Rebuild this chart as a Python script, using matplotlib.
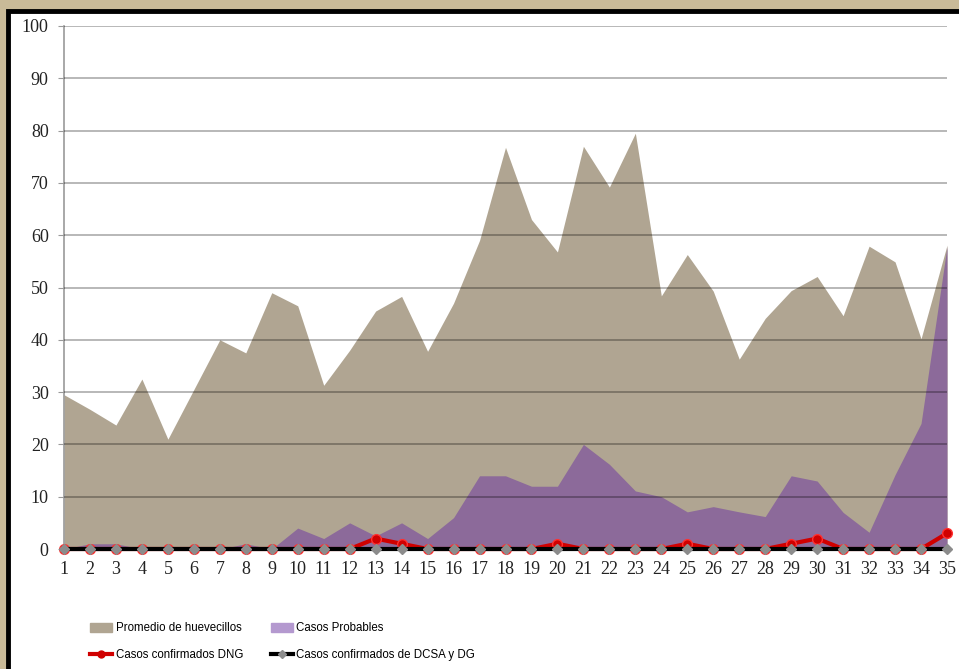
import matplotlib
matplotlib.use("Agg")
import matplotlib.pyplot as plt
import matplotlib.patches as mpatches
from matplotlib.lines import Line2D
import numpy as np

weeks = list(range(1, 36))
promedio = [29.5, 26.7, 23.7, 32.5, 21.0, 30.5, 40.0, 37.5, 49.0, 46.5,
            31.3, 38.0, 45.5, 48.3, 37.8, 47.0, 59.0, 76.8, 63.0, 56.8,
            77.0, 69.2, 79.5, 48.4, 56.3, 49.3, 36.3, 44.1, 49.4, 52.1,
            44.6, 57.9, 54.9, 40.2, 58.1]
probables = [0, 1, 1, 0, 0, 0, 0, 1, 0, 4,
             2, 5, 2.5, 5, 2, 6, 14, 14, 12, 12,
             20, 16.2, 11.1, 10, 7.1, 8.1, 7.1, 6.2, 14, 13,
             7, 3.2, 14.2, 24, 57.8]
dng = [0, 0, 0, 0, 0, 0, 0, 0, 0, 0,
       0, 0, 2, 1, 0, 0, 0, 0, 0, 1,
       0, 0, 0, 0, 1, 0, 0, 0, 1, 2,
       0, 0, 0, 0, 3]
dcsa = [0] * 35

labels = ["Promedio de huevecillos", "Casos Probables",
          "Casos confirmados DNG", "Casos confirmados de DCSA y DG"]

W, H = 959, 669
fig = plt.figure(figsize=(W / 100, H / 100), dpi=100)
fig.patch.set_facecolor("#C9BA98")

# white panel with black frame (runs off the right / bottom edge)
frame = mpatches.Rectangle((8 / W, -0.05), 1.1, (H - 11) / H + 0.05,
                           transform=fig.transFigure, facecolor="white",
                           edgecolor="black", linewidth=3.5, zorder=-5)
fig.patches.append(frame)

ax = fig.add_axes([64 / W, 1 - 549 / H, (947 - 64) / W, (549 - 26) / H])
ax.set_facecolor("none")
ax.set_zorder(1)

x = np.array(weeks)
ax.fill_between(x, 0, promedio, color="#B0A592", linewidth=0, zorder=1)
ax.fill_between(x, 0, probables, color="#8C6A9A", linewidth=0, zorder=2)

for v in range(10, 101, 10):
    ax.axhline(v, color="black", alpha=0.33, linewidth=1.2, zorder=3)

ax.plot(x, dng, color="#D00000", linewidth=3, marker="o", markersize=7,
        markerfacecolor="#D00000", markeredgecolor="#FF3030", zorder=4,
        clip_on=False)
ax.plot(x, dcsa, color="black", linewidth=3, marker="D", markersize=5.5,
        markerfacecolor="#8C8C8C", markeredgecolor="#8C8C8C", zorder=5,
        clip_on=False)

ax.set_xlim(1, 35)
ax.set_ylim(0, 100)
ax.set_yticks(range(0, 101, 10))
ax.set_xticks(weeks)
for s in ["top", "right", "bottom"]:
    ax.spines[s].set_visible(False)
ax.spines["left"].set_color("#999999")
ax.spines["left"].set_linewidth(1.2)
ax.tick_params(axis="y", length=4, color="#999999", pad=7)
ax.tick_params(axis="x", length=0, pad=9)
for lab in ax.get_xticklabels() + ax.get_yticklabels():
    lab.set_fontfamily(["Liberation Serif", "DejaVu Serif"])
    lab.set_fontsize(13)
    lab.set_color("#222222")

handles = [
    mpatches.Patch(color="#B0A592"),
    Line2D([], [], color="#D00000", linewidth=3, marker="o", markersize=5),
    mpatches.Patch(color="#B499CF"),
    Line2D([], [], color="black", linewidth=3, marker="D", markersize=4,
           markerfacecolor="#8C8C8C", markeredgecolor="#8C8C8C"),
]
leg_labels = [labels[0], labels[2], labels[1], labels[3]]
leg = fig.legend(handles, leg_labels, ncol=2, loc="upper left",
                 bbox_to_anchor=(80 / W, 1 - 612 / H), frameon=False,
                 prop={"family": ["Liberation Sans", "DejaVu Sans"],
                       "size": 8.3},
                 handlelength=1.9, handleheight=0.8, handletextpad=0.3,
                 columnspacing=2.4, labelspacing=1.3)

fig.savefig("out.png", dpi=100, facecolor=fig.get_facecolor())
